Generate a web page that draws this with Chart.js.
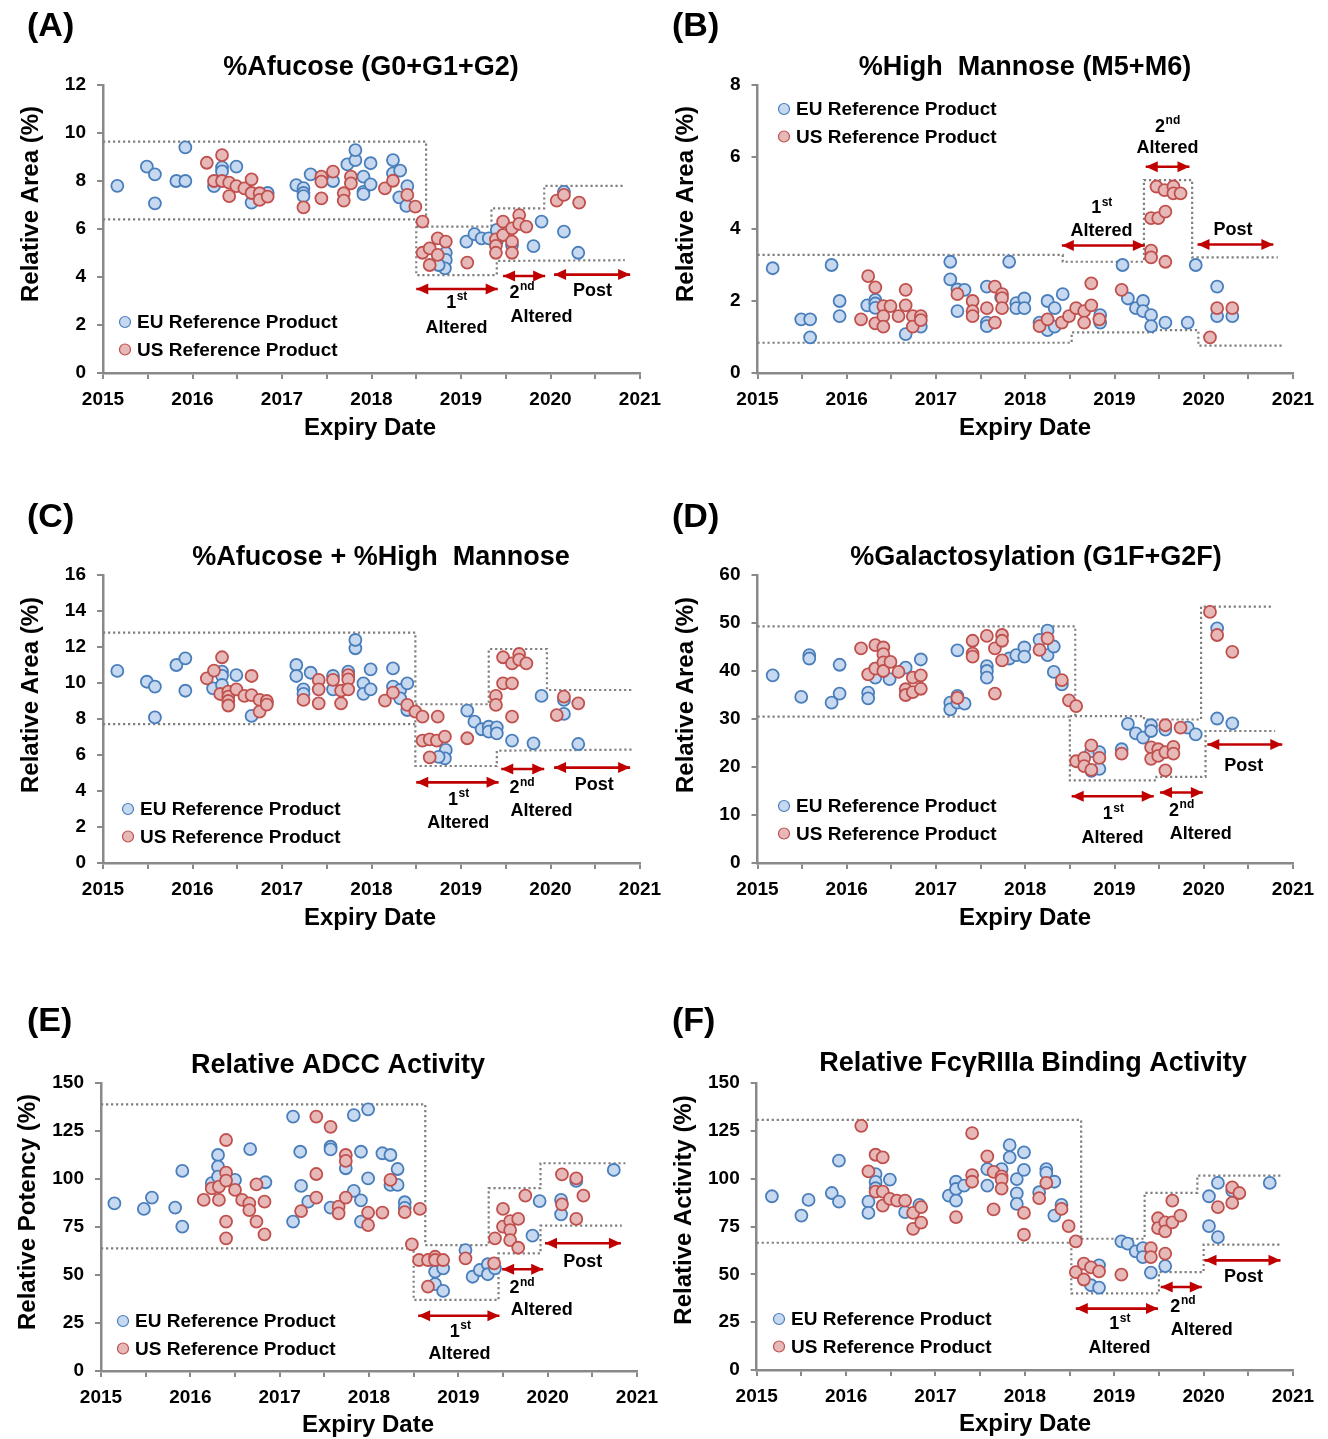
<!DOCTYPE html>
<html>
<head>
<meta charset="utf-8">
<script src="https://cdn.jsdelivr.net/npm/chart.js@4.4.0/dist/chart.umd.min.js"></script>
<style>
  body { margin: 0; background: #fff; width: 1328px; height: 1439px; position: relative; overflow: hidden; }
  canvas { position: absolute; }
</style>
</head>
<body>
<canvas id="cA"></canvas>
<canvas id="cB"></canvas>
<canvas id="cC"></canvas>
<canvas id="cD"></canvas>
<canvas id="cE"></canvas>
<canvas id="cF"></canvas>
<script>
/* ── Data: [expiry year, value] ─────────────────────────────── */
const afucoseEU = [[2015.16,7.8],[2015.49,8.6],[2015.58,8.28],[2015.58,7.07],[2015.82,8.0],[2015.92,8.0],[2015.92,9.4],[2016.24,7.79],[2016.33,8.57],[2016.33,8.4],[2016.49,8.6],[2016.66,7.1],[2016.84,7.5],[2017.16,7.83],[2017.24,7.7],[2017.24,7.5],[2017.24,7.37],[2017.32,8.28],[2017.57,8.0],[2017.73,8.69],[2017.82,8.87],[2017.82,9.29],[2017.91,8.18],[2017.91,7.55],[2017.91,7.45],[2017.99,8.74],[2017.99,7.86],[2018.24,8.87],[2018.24,8.32],[2018.32,8.43],[2018.40,7.79],[2018.31,7.32],[2018.39,6.96],[2018.83,5.01],[2018.83,4.71],[2018.82,4.36],[2018.75,4.5],[2019.06,5.47],[2019.15,5.79],[2019.23,5.61],[2019.31,5.61],[2019.40,5.96],[2019.40,5.5],[2019.57,5.33],[2019.81,5.29],[2019.90,6.31],[2020.15,7.55],[2020.15,5.89],[2020.31,5.01]];
const afucoseUS = [[2016.16,8.76],[2016.33,9.08],[2016.24,8.0],[2016.33,8.0],[2016.41,7.93],[2016.41,7.37],[2016.49,7.79],[2016.58,7.69],[2016.66,8.07],[2016.66,7.5],[2016.75,7.49],[2016.75,7.21],[2016.84,7.35],[2017.24,6.9],[2017.44,8.18],[2017.44,7.97],[2017.44,7.28],[2017.57,8.39],[2017.69,7.49],[2017.69,7.18],[2017.77,8.18],[2017.77,7.9],[2018.15,7.69],[2018.24,8.01],[2018.40,7.42],[2018.49,6.93],[2018.57,6.31],[2018.57,5.01],[2018.65,5.19],[2018.65,4.5],[2018.74,5.61],[2018.74,4.92],[2018.83,5.47],[2019.07,4.6],[2019.39,5.57],[2019.39,5.3],[2019.39,5.01],[2019.47,6.31],[2019.47,5.75],[2019.57,6.03],[2019.57,5.47],[2019.57,5.01],[2019.65,6.58],[2019.65,6.21],[2019.73,6.1],[2020.07,7.18],[2020.15,7.42],[2020.32,7.1]];

const mannoseEU = [[2015.17,2.91],[2015.49,1.49],[2015.59,1.49],[2015.59,0.99],[2015.83,3.0],[2015.92,2.0],[2015.92,1.58],[2016.23,1.88],[2016.32,2.03],[2016.32,1.93],[2016.32,1.81],[2016.66,1.08],[2016.83,1.29],[2017.16,3.09],[2017.16,2.6],[2017.24,2.32],[2017.32,2.31],[2017.24,1.72],[2017.57,2.4],[2017.57,1.4],[2017.57,1.3],[2017.73,2.1],[2017.82,3.09],[2017.90,1.94],[2017.90,1.8],[2017.99,2.07],[2017.99,1.8],[2018.16,1.4],[2018.25,2.0],[2018.25,1.19],[2018.33,1.8],[2018.33,1.29],[2018.42,2.19],[2018.84,1.61],[2018.84,1.4],[2019.09,3.0],[2019.15,2.07],[2019.24,1.8],[2019.32,2.0],[2019.32,1.72],[2019.41,1.61],[2019.41,1.3],[2019.57,1.4],[2019.82,1.4],[2019.91,3.0],[2020.15,2.4],[2020.15,1.58],[2020.32,1.58]];
const mannoseUS = [[2016.16,1.49],[2016.24,2.69],[2016.32,2.38],[2016.32,1.38],[2016.41,1.86],[2016.41,1.58],[2016.41,1.29],[2016.49,1.86],[2016.58,1.58],[2016.66,2.31],[2016.66,1.88],[2016.74,1.58],[2016.74,1.29],[2016.83,1.58],[2016.83,1.47],[2017.24,2.19],[2017.41,2.0],[2017.41,1.72],[2017.41,1.58],[2017.57,1.8],[2017.66,2.4],[2017.66,1.4],[2017.74,2.19],[2017.74,2.08],[2017.74,1.8],[2018.16,1.3],[2018.25,1.49],[2018.41,1.4],[2018.49,1.58],[2018.57,1.8],[2018.66,1.72],[2018.66,1.4],[2018.74,2.49],[2018.74,1.88],[2018.83,1.49],[2019.08,2.31],[2019.41,3.4],[2019.41,3.21],[2019.41,4.3],[2019.49,4.3],[2019.57,4.48],[2019.57,3.09],[2019.47,5.18],[2019.56,5.08],[2019.66,5.18],[2019.66,4.99],[2019.74,4.99],[2020.07,0.99],[2020.15,1.8],[2020.32,1.8]];

const sumEU = [[2015.16,10.67],[2015.49,10.07],[2015.58,9.8],[2015.58,8.09],[2015.82,11.0],[2015.92,11.37],[2015.92,9.57],[2016.23,9.7],[2016.33,10.63],[2016.33,10.4],[2016.33,9.89],[2016.49,10.44],[2016.66,8.17],[2016.83,8.91],[2017.16,11.0],[2017.16,10.39],[2017.24,9.65],[2017.24,9.4],[2017.32,10.57],[2017.57,10.39],[2017.57,9.65],[2017.74,10.63],[2017.82,11.93],[2017.82,12.39],[2017.91,9.98],[2017.91,9.4],[2017.99,10.76],[2017.99,9.65],[2018.24,10.81],[2018.24,9.8],[2018.32,9.61],[2018.32,9.15],[2018.40,9.98],[2018.40,8.5],[2018.83,6.28],[2018.82,5.81],[2018.75,5.9],[2019.07,8.46],[2019.15,7.85],[2019.23,7.43],[2019.31,7.57],[2019.31,7.3],[2019.40,7.54],[2019.40,7.2],[2019.57,6.8],[2019.81,6.65],[2019.90,9.28],[2020.15,9.06],[2020.15,8.28],[2020.31,6.61]];
const sumUS = [[2016.16,10.26],[2016.24,10.69],[2016.33,11.43],[2016.31,9.39],[2016.40,9.52],[2016.40,9.24],[2016.40,9.0],[2016.40,8.75],[2016.49,9.65],[2016.58,9.28],[2016.66,10.39],[2016.66,9.33],[2016.75,9.06],[2016.75,8.41],[2016.83,9.0],[2016.83,8.8],[2017.24,9.06],[2017.41,10.17],[2017.41,9.65],[2017.41,8.87],[2017.57,10.17],[2017.66,9.57],[2017.66,8.87],[2017.74,10.44],[2017.74,10.2],[2017.74,9.65],[2018.15,9.02],[2018.24,9.46],[2018.40,8.78],[2018.49,8.41],[2018.57,8.13],[2018.74,8.13],[2018.57,6.8],[2018.65,6.87],[2018.73,6.8],[2018.82,7.02],[2018.65,5.87],[2019.07,6.93],[2019.39,9.28],[2019.39,8.78],[2019.47,11.43],[2019.47,9.98],[2019.57,11.09],[2019.57,9.98],[2019.57,8.13],[2019.65,11.61],[2019.65,11.3],[2019.73,11.09],[2020.07,8.22],[2020.15,9.24],[2020.31,8.87]];

const galEU = [[2015.17,39.1],[2015.49,34.6],[2015.58,43.3],[2015.58,42.6],[2015.83,33.4],[2015.92,35.3],[2015.92,41.3],[2016.24,35.5],[2016.24,34.3],[2016.32,40.5],[2016.32,38.6],[2016.48,38.3],[2016.66,40.7],[2016.83,42.4],[2017.16,33.4],[2017.16,32.0],[2017.24,34.8],[2017.24,33.4],[2017.32,33.2],[2017.24,44.3],[2017.57,41.0],[2017.57,40.0],[2017.57,38.6],[2017.82,42.6],[2017.90,43.3],[2017.99,44.9],[2017.99,43.0],[2018.16,46.5],[2018.25,48.4],[2018.25,43.3],[2018.32,45.1],[2018.32,39.8],[2018.41,37.2],[2018.74,23.3],[2018.83,23.1],[2018.83,19.6],[2018.74,19.2],[2019.08,23.7],[2019.15,29.0],[2019.24,27.0],[2019.32,26.1],[2019.41,28.7],[2019.41,27.5],[2019.57,27.8],[2019.82,28.2],[2019.91,26.8],[2020.15,48.9],[2020.15,30.1],[2020.32,29.1]];
const galUS = [[2016.16,44.7],[2016.24,39.3],[2016.32,45.4],[2016.32,40.5],[2016.41,44.9],[2016.41,43.5],[2016.41,41.8],[2016.41,40.0],[2016.49,41.9],[2016.58,39.8],[2016.66,36.2],[2016.66,35.0],[2016.74,38.6],[2016.74,35.6],[2016.83,39.1],[2016.83,36.3],[2017.24,34.4],[2017.41,46.3],[2017.41,43.6],[2017.41,43.0],[2017.57,47.3],[2017.66,44.7],[2017.66,35.3],[2017.74,47.5],[2017.74,46.3],[2017.74,42.2],[2018.16,44.4],[2018.25,46.8],[2018.41,38.1],[2018.49,33.9],[2018.57,32.7],[2018.57,21.2],[2018.66,21.9],[2018.66,20.2],[2018.74,24.5],[2018.74,19.4],[2018.83,21.9],[2019.08,22.8],[2019.41,24.1],[2019.41,21.7],[2019.49,23.7],[2019.49,22.3],[2019.57,28.7],[2019.57,23.1],[2019.57,19.3],[2019.66,24.2],[2019.66,22.8],[2019.74,28.2],[2020.07,52.3],[2020.15,47.5],[2020.32,44.0]];

const adccEU = [[2015.15,87.3],[2015.48,84.4],[2015.57,90.3],[2015.83,85.1],[2015.91,75.2],[2015.91,104.2],[2016.24,97.8],[2016.31,112.5],[2016.31,106.4],[2016.31,101.2],[2016.50,99.5],[2016.67,115.6],[2016.84,98.3],[2017.15,132.5],[2017.15,77.8],[2017.23,114.2],[2017.24,96.4],[2017.32,88.2],[2017.57,116.8],[2017.57,115.4],[2017.57,85.1],[2017.74,105.6],[2017.83,133.3],[2017.83,93.8],[2017.91,114.2],[2017.91,88.9],[2017.91,77.8],[2017.99,136.3],[2017.99,100.3],[2018.15,113.4],[2018.24,112.5],[2018.32,105.2],[2018.24,96.9],[2018.32,96.9],[2018.40,87.9],[2018.40,85.0],[2018.74,51.7],[2018.83,53.5],[2018.74,45.2],[2018.83,41.7],[2019.08,63.0],[2019.16,49.1],[2019.24,52.6],[2019.33,55.6],[2019.33,50.4],[2019.41,53.5],[2019.83,70.5],[2019.91,88.5],[2020.15,89.1],[2020.15,81.6],[2020.32,99.0],[2020.74,104.7]];
const adccUS = [[2016.15,89.1],[2016.24,95.1],[2016.32,96.0],[2016.32,89.1],[2016.40,120.3],[2016.40,103.3],[2016.40,99.2],[2016.40,77.8],[2016.40,69.1],[2016.50,94.3],[2016.58,89.1],[2016.66,87.3],[2016.66,83.8],[2016.74,97.2],[2016.74,77.8],[2016.83,88.2],[2016.83,71.2],[2017.24,83.3],[2017.41,132.5],[2017.41,102.6],[2017.41,90.3],[2017.57,127.2],[2017.66,85.6],[2017.66,82.1],[2017.74,112.5],[2017.74,109.4],[2017.74,90.3],[2017.99,82.5],[2017.99,76.0],[2018.15,82.5],[2018.24,99.5],[2018.40,82.7],[2018.57,84.4],[2018.48,66.0],[2018.56,57.8],[2018.66,57.8],[2018.74,59.5],[2018.74,57.8],[2018.83,57.8],[2018.66,43.9],[2019.08,58.7],[2019.40,56.1],[2019.41,69.1],[2019.50,84.4],[2019.50,75.2],[2019.58,78.1],[2019.58,73.4],[2019.58,68.2],[2019.67,79.2],[2019.67,64.2],[2019.75,91.3],[2020.16,102.4],[2020.16,86.8],[2020.32,100.3],[2020.40,91.3],[2020.32,79.2]];

const fcEU = [[2015.17,90.8],[2015.50,80.7],[2015.58,88.9],[2015.84,92.5],[2015.92,109.4],[2015.92,88.0],[2016.25,88.0],[2016.25,82.1],[2016.33,102.4],[2016.33,98.3],[2016.33,95.0],[2016.49,99.5],[2016.66,82.5],[2016.82,86.3],[2017.15,91.1],[2017.23,98.4],[2017.23,94.6],[2017.23,88.5],[2017.32,96.4],[2017.58,96.4],[2017.58,105.0],[2017.74,105.0],[2017.83,117.5],[2017.83,111.1],[2017.91,99.8],[2017.91,92.3],[2017.91,86.8],[2017.99,113.7],[2017.99,104.6],[2018.24,105.0],[2018.24,103.0],[2018.33,98.4],[2018.16,92.9],[2018.41,86.3],[2018.33,80.7],[2018.83,54.7],[2018.74,44.3],[2018.83,43.1],[2019.08,67.2],[2019.15,66.0],[2019.24,62.0],[2019.32,63.7],[2019.32,59.0],[2019.41,50.9],[2019.57,54.3],[2020.06,90.8],[2020.16,97.8],[2020.06,75.2],[2020.16,69.4],[2020.32,93.8],[2020.74,97.8]];
const fcUS = [[2016.17,127.6],[2016.25,103.8],[2016.33,112.5],[2016.41,111.1],[2016.33,93.2],[2016.41,93.2],[2016.41,85.9],[2016.49,89.4],[2016.57,88.5],[2016.66,88.5],[2016.75,82.1],[2016.75,73.8],[2016.84,85.1],[2016.84,77.0],[2017.23,79.9],[2017.41,123.8],[2017.41,101.9],[2017.41,98.4],[2017.58,111.6],[2017.65,103.6],[2017.65,83.9],[2017.74,101.2],[2017.74,99.5],[2017.74,94.8],[2017.99,82.1],[2017.99,70.7],[2018.16,89.8],[2018.24,97.8],[2018.41,84.2],[2018.49,75.2],[2018.57,67.2],[2018.57,51.2],[2018.66,55.6],[2018.66,47.3],[2018.74,53.6],[2018.83,51.5],[2019.08,49.8],[2019.41,63.7],[2019.41,59.0],[2019.49,79.3],[2019.49,74.1],[2019.57,77.2],[2019.57,72.4],[2019.57,60.8],[2019.65,88.5],[2019.65,77.2],[2019.74,80.7],[2020.16,85.1],[2020.32,95.5],[2020.40,92.5],[2020.32,87.3]];

/* ── Range boxes (dotted polylines) and arrows [x1, x2, y] ──── */
const afucoseRanges = [
  [[2015,9.64],[2018.61,9.64],[2018.61,6.1]],
  [[2015,6.4],[2018.5,6.4],[2018.5,4.08],[2019.40,4.08],[2019.40,4.67],[2020.83,4.7]],
  [[2018.5,6.1],[2019.34,6.1],[2019.34,6.86],[2019.93,6.86],[2019.93,7.8],[2020.83,7.8]]
];
const afucoseArrows = [[2018.5,2019.41,3.5],[2019.47,2019.94,4.04],[2020.04,2020.89,4.1]];

const mannoseRanges = [
  [[2015,3.28],[2018.42,3.28],[2018.42,3.09],[2019.33,3.09],[2019.33,5.36],[2019.87,5.36],[2019.87,3.21],[2020.83,3.21]],
  [[2015,0.84],[2018.52,0.84],[2018.52,1.13],[2019.43,1.13],[2019.43,1.19],[2019.94,1.19],[2019.94,0.76],[2020.89,0.76]]
];
const mannoseArrows = [[2018.41,2019.34,3.54],[2019.35,2019.84,5.73],[2019.93,2020.78,3.57]];

const sumRanges = [
  [[2015,12.8],[2018.49,12.8],[2018.49,5.39],[2019.40,5.39],[2019.40,6.24],[2020.93,6.3]],
  [[2015,7.72],[2018.49,7.72]],
  [[2018.49,8.82],[2019.31,8.82],[2019.31,11.89],[2019.96,11.89],[2019.96,9.61],[2020.91,9.61]]
];
const sumArrows = [[2018.5,2019.42,4.48],[2019.45,2019.93,5.22],[2020.04,2020.89,5.3]];

const galRanges = [
  [[2015,49.3],[2018.56,49.3],[2018.56,30.6]],
  [[2015,30.5],[2018.50,30.5],[2018.50,17.2],[2019.47,17.2],[2019.47,17.95],[2020.02,17.95],[2020.02,27.5],[2020.80,27.5]],
  [[2018.50,30.6],[2019.33,30.6],[2019.33,29.9],[2019.97,29.9],[2019.97,53.4],[2020.76,53.4]]
];
const galArrows = [[2018.52,2019.44,13.9],[2019.51,2019.99,14.7],[2020.04,2020.88,24.7]];

const adccRanges = [
  [[2015,138.9],[2018.63,138.9],[2018.63,65.6]],
  [[2015,63.9],[2018.50,63.9],[2018.50,37.0],[2019.45,37.0],[2019.45,61.3],[2019.92,61.3],[2019.92,75.7],[2020.83,75.7]],
  [[2018.63,65.6],[2019.34,65.6],[2019.34,95.2],[2019.92,95.2],[2019.92,108.2],[2020.87,108.2]]
];
const adccArrows = [[2018.55,2019.46,28.8],[2019.49,2019.95,53.0],[2019.97,2020.82,66.5]];

const fcRanges = [
  [[2015,130.7],[2018.63,130.7],[2018.63,68.6]],
  [[2015,66.5],[2018.52,66.5],[2018.52,40.0],[2019.50,40.0],[2019.50,51.2],[2020.0,51.2],[2020.0,65.5],[2020.88,65.5]],
  [[2018.52,68.6],[2019.34,68.6],[2019.34,92.6],[2019.93,92.6],[2019.93,101.6],[2020.88,101.6]]
];
const fcArrows = [[2018.57,2019.49,32.1],[2019.52,2019.98,43.4],[2020.01,2020.86,57.3]];

/* ── Styling ───────────────────────────────────────────────── */
const FONT = '"Liberation Sans", Arial, Helvetica, sans-serif';
const EU = { fill: '#c6d9f1', line: '#4a7ebb' };
const US = { fill: '#e6b9b8', line: '#c0504d' };
const AXIS = '#898989';
const ARROW = '#c00000';

/* Panel layout: canvas position (page px), chart area (canvas px), text anchors (page px).
   Canvases are wider than half the page so the x-label overflow never squeezes the plot. */
const CW = 720;
const panels = [
  { id:'cA', x:0,   y:0,   h:490, area:{l:103,  r:640, t:85,  b:373}, ymax:12,  ystep:2,
    eu:afucoseEU, us:afucoseUS, ranges:afucoseRanges, arrows:afucoseArrows,
    letter:'(A)', letterPos:[27,27], title:'%Afucose (G0+G1+G2)', titlePos:[371,68],
    ytitle:'Relative Area (%)', ytitlePos:[31,204], xtitlePos:[370,428], legendPos:[125,322],
    labels:[['1','st',2018.95,2.92],['Altered','',2018.95,1.875],['2','nd',2019.68,3.33],['Altered','',2019.90,2.35],['Post','',2020.47,3.42]] },
  { id:'cB', x:664, y:0,   h:490, area:{l:93.5, r:629, t:85,  b:373}, ymax:8,   ystep:2,
    eu:mannoseEU, us:mannoseUS, ranges:mannoseRanges, arrows:mannoseArrows,
    letter:'(B)', letterPos:[672,27], title:'%High  Mannose (M5+M6)', titlePos:[1025,68],
    ytitle:'Relative Area (%)', ytitlePos:[686,204], xtitlePos:[1025,428], legendPos:[784,109],
    labels:[['1','st',2018.854,4.575],['Altered','',2018.854,3.95],['2','nd',2019.593,6.84],['Altered','',2019.593,6.24],['Post','',2020.328,3.97]] },
  { id:'cC', x:0,   y:490, h:490, area:{l:103,  r:640, t:85,  b:373}, ymax:16,  ystep:2,
    eu:sumEU, us:sumUS, ranges:sumRanges, arrows:sumArrows,
    letter:'(C)', letterPos:[27,518], title:'%Afucose + %High  Mannose', titlePos:[381,558],
    ytitle:'Relative Area (%)', ytitlePos:[31,695], xtitlePos:[370,918], legendPos:[128,809],
    labels:[['1','st',2018.97,3.5],['Altered','',2018.97,2.2],['2','nd',2019.68,4.15],['Altered','',2019.90,2.9],['Post','',2020.49,4.33]] },
  { id:'cD', x:664, y:490, h:490, area:{l:93.5, r:629, t:85,  b:373}, ymax:60,  ystep:10,
    eu:galEU, us:galUS, ranges:galRanges, arrows:galArrows,
    letter:'(D)', letterPos:[672,518], title:'%Galactosylation (G1F+G2F)', titlePos:[1036,558],
    ytitle:'Relative Area (%)', ytitlePos:[686,695], xtitlePos:[1025,918], legendPos:[784,806],
    labels:[['1','st',2018.984,10.1],['Altered','',2018.977,5.2],['2','nd',2019.75,10.8],['Altered','',2019.966,6.05],['Post','',2020.448,20.3]] },
  { id:'cE', x:0,   y:980, h:459, area:{l:101,  r:637, t:103, b:391}, ymax:150, ystep:25,
    eu:adccEU, us:adccUS, ranges:adccRanges, arrows:adccArrows,
    letter:'(E)', letterPos:[27,1022], title:'Relative ADCC Activity', titlePos:[338,1066],
    ytitle:'Relative Potency (%)', ytitlePos:[28,1212], xtitlePos:[368,1425], legendPos:[123,1321],
    labels:[['1','st',2019.02,20.5],['Altered','',2019.012,8.7],['2','nd',2019.711,43.1],['Altered','',2019.935,31.8],['Post','',2020.394,56.9]] },
  { id:'cF', x:664, y:980, h:459, area:{l:92.7, r:629, t:103, b:390}, ymax:150, ystep:25,
    eu:fcEU, us:fcUS, ranges:fcRanges, arrows:fcArrows,
    letter:'(F)', letterPos:[672,1022], title:'Relative FcγRIIIa Binding Activity', titlePos:[1033,1064],
    ytitle:'Relative Activity (%)', ytitlePos:[684,1210], xtitlePos:[1025,1424], legendPos:[779,1319],
    labels:[['1','st',2019.06,23.8],['Altered','',2019.06,11.6],['2','nd',2019.766,33.0],['Altered','',2019.979,20.8],['Post','',2020.445,48.6]] }
];

/* ── Plugin: panel texts, legend, arrowheads ───────────────── */
const panelText = {
  id: 'panelText',
  afterDatasetsDraw(chart) {
    const ctx = chart.ctx;
    ctx.save();
    ctx.fillStyle = ARROW;
    chart.data.datasets.forEach((ds, i) => {
      if (!ds.isArrow) return;
      const pts = chart.getDatasetMeta(i).data;
      const a = pts[0], b = pts[1];
      [[a.x, a.y, 1], [b.x, b.y, -1]].forEach(([x, y, dir]) => {
        ctx.beginPath();
        ctx.moveTo(x, y);
        ctx.lineTo(x + dir * 12, y - 5.5);
        ctx.lineTo(x + dir * 12, y + 5.5);
        ctx.closePath();
        ctx.fill();
      });
    });
    ctx.restore();
  },
  afterDraw(chart, args, o) {
    const ctx = chart.ctx, p = o.panel;
    const xs = chart.scales.x, ys = chart.scales.y;
    const ox = p.x, oy = p.y;
    ctx.save();
    ctx.fillStyle = '#000';
    ctx.textBaseline = 'middle';

    ctx.font = `bold 34px ${FONT}`;
    ctx.textAlign = 'left';
    ctx.fillText(p.letter, p.letterPos[0] - ox, p.letterPos[1] - oy);

    ctx.font = `bold 27px ${FONT}`;
    ctx.textAlign = 'center';
    ctx.fillText(p.title, p.titlePos[0] - ox, p.titlePos[1] - oy);

    ctx.font = `bold 24px ${FONT}`;
    ctx.fillText('Expiry Date', p.xtitlePos[0] - ox, p.xtitlePos[1] - oy);

    ctx.save();
    ctx.translate(p.ytitlePos[0] - ox, p.ytitlePos[1] - oy);
    ctx.rotate(-Math.PI / 2);
    ctx.font = `bold 24px ${FONT}`;
    ctx.fillText(p.ytitle, 0, 0);
    ctx.restore();

    /* legend */
    const [lx, ly] = p.legendPos;
    [[EU, 'EU Reference Product'], [US, 'US Reference Product']].forEach(([st, txt], k) => {
      const cx = lx - ox, cy = ly - oy + k * 27.5;
      ctx.beginPath();
      ctx.arc(cx, cy, 5.5, 0, Math.PI * 2);
      ctx.fillStyle = st.fill; ctx.fill();
      ctx.lineWidth = 1.2; ctx.strokeStyle = st.line; ctx.stroke();
      ctx.fillStyle = '#000';
      ctx.font = `bold 19px ${FONT}`;
      ctx.textAlign = 'left';
      ctx.fillText(txt, cx + 12, cy + 1);
    });

    /* period labels at data positions */
    p.labels.forEach(([main, sup, xv, yv]) => {
      const cx = xs.getPixelForValue(xv), cy = ys.getPixelForValue(yv);
      ctx.font = `bold 18px ${FONT}`;
      const w1 = ctx.measureText(main).width;
      ctx.font = `bold 12px ${FONT}`;
      const w2 = sup ? ctx.measureText(sup).width : 0;
      const x0 = cx - (w1 + w2) / 2;
      ctx.textAlign = 'left';
      ctx.fillStyle = '#000';
      ctx.font = `bold 18px ${FONT}`;
      ctx.fillText(main, x0, cy);
      if (sup) {
        ctx.font = `bold 12px ${FONT}`;
        ctx.fillText(sup, x0 + w1 + 0.5, cy - 6);
      }
    });
    ctx.restore();
  }
};

const toXY = arr => arr.map(([x, y]) => ({ x, y }));
const tickFont = { family: FONT, size: 19, weight: 'bold' };

function buildPanel(p) {
  const canvas = document.getElementById(p.id);
  canvas.width = CW; canvas.height = p.h;
  canvas.style.left = p.x + 'px'; canvas.style.top = p.y + 'px';

  const datasets = [];
  datasets.push({ label: 'US Reference Product', data: toXY(p.us), order: 1,
    pointRadius: 6, pointBorderWidth: 1.8, pointBackgroundColor: US.fill, pointBorderColor: US.line });
  datasets.push({ label: 'EU Reference Product', data: toXY(p.eu), order: 2,
    pointRadius: 6, pointBorderWidth: 1.8, pointBackgroundColor: EU.fill, pointBorderColor: EU.line });
  p.ranges.forEach(r => datasets.push({ type: 'line', data: toXY(r), order: 3,
    borderColor: '#7f7f7f', borderWidth: 2.2, borderDash: [2.2, 2.8], pointRadius: 0, tension: 0, fill: false }));
  p.arrows.forEach(([x1, x2, y]) => datasets.push({ type: 'line', isArrow: true, order: 0,
    data: [{ x: x1, y }, { x: x2, y }], borderColor: ARROW, borderWidth: 2.6, pointRadius: 0, fill: false }));

  const xh = 42;
  new Chart(canvas, {
    type: 'scatter',
    data: { datasets },
    options: {
      responsive: false,
      animation: false,
      events: [],
      layout: { padding: { left: 0, top: p.area.t, right: CW - p.area.r, bottom: p.h - p.area.b - xh } },
      plugins: { legend: { display: false }, tooltip: { enabled: false }, panelText: { panel: p } },
      scales: {
        x: {
          type: 'linear', min: 2015, max: 2021,
          ticks: { stepSize: 0.5, autoSkip: false, maxRotation: 0, color: '#000', font: tickFont, padding: 9,
                   callback: v => Math.abs(v - Math.round(v)) < 1e-6 ? String(Math.round(v)) : '' },
          grid: { drawOnChartArea: false, drawTicks: true, tickLength: 6, color: AXIS, lineWidth: 2 },
          border: { color: AXIS, width: 2.5 },
          afterFit: s => { s.height = xh; }
        },
        y: {
          min: 0, max: p.ymax,
          ticks: { stepSize: p.ystep, color: '#000', font: tickFont, padding: 11 },
          grid: { drawOnChartArea: false, drawTicks: true, tickLength: 6, color: AXIS, lineWidth: 2 },
          border: { color: AXIS, width: 2.5 },
          afterFit: s => { s.width = p.area.l; }
        }
      }
    },
    plugins: [panelText]
  });
}

panels.forEach(buildPanel);
</script>
</body>
</html>
